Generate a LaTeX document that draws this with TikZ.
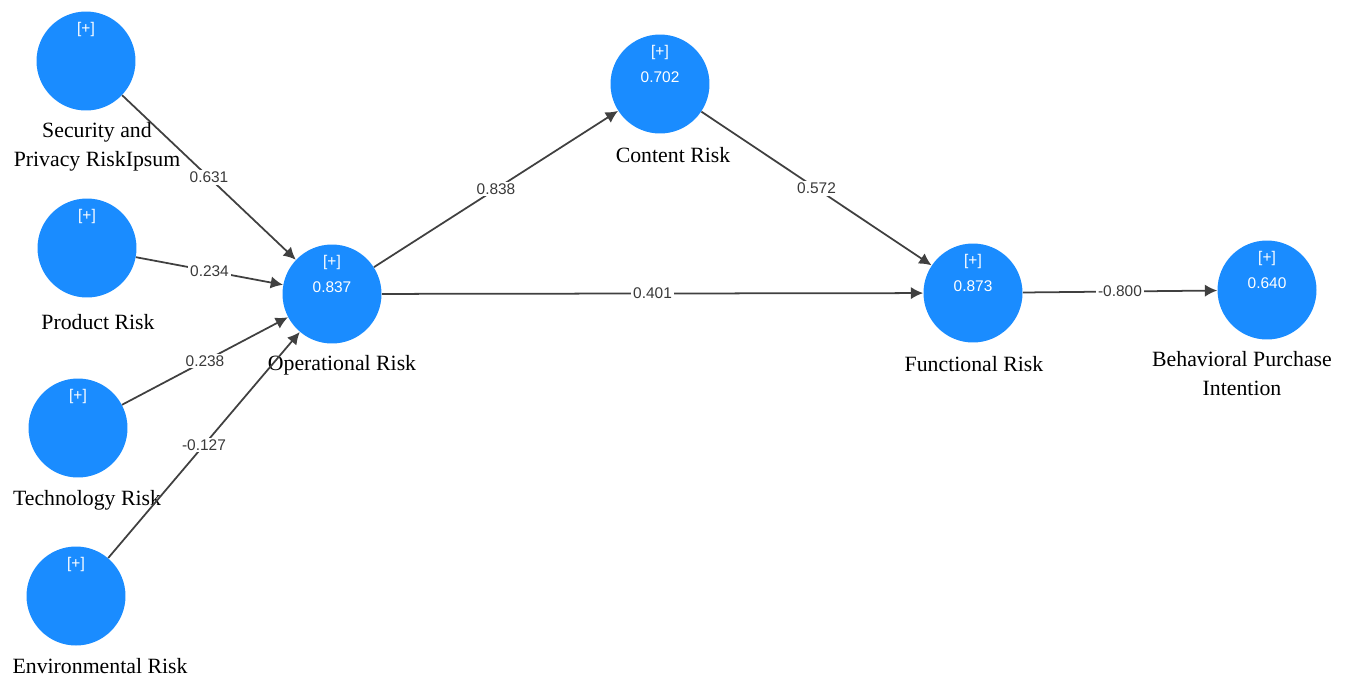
\documentclass[tikz,border=0pt]{standalone}
\usepackage{fontspec}
\setmainfont{Liberation Serif}
\newfontfamily\numfont{Liberation Sans}
\usetikzlibrary{arrows.meta}
\definecolor{plsBlue}{HTML}{1A8CFF}
\definecolor{edgeGray}{HTML}{404040}
\definecolor{numGray}{HTML}{3A3A3A}
\tikzset{
  latent/.style={circle, fill=plsBlue, minimum size=1.98cm, inner sep=0pt},
  pathArrow/.style={-{Latex[length=7pt, width=7pt]}, color=edgeGray, line width=1pt},
  coef/.style={fill=white, inner sep=1pt, text=numGray,
               font=\numfont\fontsize{8.8}{10}\selectfont},
  inCircle/.style={text=white, inner sep=0pt, font=\numfont\fontsize{8.8}{10}\selectfont},
  lvName/.style={align=center, inner sep=0pt, font=\fontsize{12.4}{16.5}\selectfont},
}

\begin{document}
\begin{tikzpicture}[x=0.02cm, y=-0.02cm]
    \useasboundingbox (0,0) rectangle (1349,680);

    %% Variables latentes
    \node[latent] (sec)  at (86, 61)   {};
    \node[latent] (prod) at (87, 248)  {};
    \node[latent] (tech) at (78, 428)  {};
    \node[latent] (env)  at (76, 596)  {};
    \node[latent] (op)   at (332, 294) {};
    \node[latent] (con)  at (660, 84)  {};
    \node[latent] (fun)  at (973, 293) {};
    \node[latent] (beh)  at (1267, 290) {};

    %% [+] y R^2 dentro de los circulos
    \foreach \n in {sec, prod, tech, env, op, con, fun, beh}
      \node[inCircle] (\n-plus) at ([yshift=0.64cm]\n.center) {[+]};
    \node[inCircle] (op-r2)  at ([yshift=0.14cm]op.center)  {0.837};
    \node[inCircle] (con-r2) at ([yshift=0.14cm]con.center) {0.702};
    \node[inCircle] (fun-r2) at ([yshift=0.14cm]fun.center) {0.873};
    \node[inCircle] (beh-r2) at ([yshift=0.14cm]beh.center) {0.640};

    %% Nombres
    \node[lvName] (sec-name)  at (97, 147)  {Security and\\Privacy RiskIpsum};
    \node[lvName] (prod-name) at (98, 322)  {Product Risk};
    \node[lvName] (tech-name) at (87, 500)  {Technology Risk};
    \node[lvName] (env-name)  at (100, 666) {Environmental Risk};
    \node[lvName] (op-name)   at (342, 365) {Operational Risk};
    \node[lvName] (con-name)  at (673, 155) {Content Risk};
    \node[lvName] (fun-name)  at (974, 364) {Functional Risk};
    \node[lvName] (beh-name)  at (1242, 374) {Behavioral Purchase\\Intention};

    %% Coeficientes de ruta
    \draw[pathArrow] (sec)  -- node[coef] {0.631}  (op);
    \draw[pathArrow] (prod) -- node[coef] {0.234}  (op);
    \draw[pathArrow] (tech) -- node[coef] {0.238}  (op);
    \draw[pathArrow] (env)  -- node[coef] {-0.127} (op);
    \draw[pathArrow] (op)   -- node[coef] {0.838}  (con);
    \draw[pathArrow] (op)   -- node[coef] {0.401}  (fun);
    \draw[pathArrow] (con)  -- node[coef] {0.572}  (fun);
    \draw[pathArrow] (fun)  -- node[coef] {-0.800} (beh);
  \end{tikzpicture}
\end{document}
